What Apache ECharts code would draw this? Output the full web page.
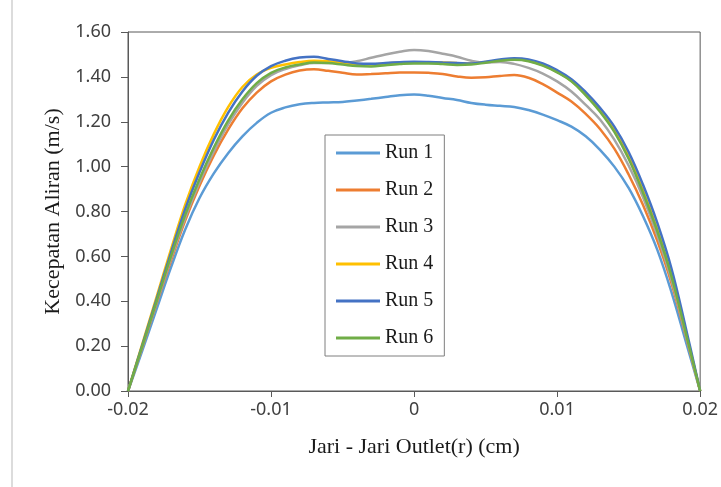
<!DOCTYPE html>
<html>
<head>
<meta charset="utf-8">
<script src="https://cdn.jsdelivr.net/npm/echarts@6/dist/echarts.min.js"></script>
<style>
  html, body { margin: 0; padding: 0; background: #fff; }
  #main { width: 721px; height: 487px; }
</style>
</head>
<body>
<div id="main"></div>
<script>
// jari-jari outlet (r), step 0.001
const radius = [
  -0.020, -0.019, -0.018, -0.017, -0.016, -0.015, -0.014, -0.013, -0.012, -0.011,
  -0.010, -0.009, -0.008, -0.007, -0.006, -0.005, -0.004, -0.003, -0.002, -0.001,
  0,
  0.001, 0.002, 0.003, 0.004, 0.005, 0.006, 0.007, 0.008, 0.009, 0.010,
  0.011, 0.012, 0.013, 0.014, 0.015, 0.016, 0.017, 0.018, 0.019, 0.020
]

const run1 = [0, 0.18, 0.365, 0.55, 0.72, 0.86, 0.97, 1.06, 1.135, 1.195,
  1.24, 1.264, 1.278, 1.284, 1.286, 1.288, 1.295, 1.302, 1.31, 1.318,
  1.321,
  1.316, 1.306, 1.297, 1.284, 1.276, 1.271, 1.266, 1.252, 1.232, 1.207,
  1.178, 1.135, 1.075, 1.0, 0.905, 0.78, 0.63, 0.44, 0.22, 0]

const run2 = [0, 0.195, 0.39, 0.58, 0.76, 0.915, 1.05, 1.165, 1.26, 1.33,
  1.38, 1.41, 1.428, 1.434, 1.427, 1.418, 1.411, 1.413, 1.416, 1.419,
  1.42,
  1.418, 1.413, 1.402, 1.396, 1.398, 1.404, 1.408, 1.396, 1.368, 1.33,
  1.29, 1.235, 1.168, 1.08, 0.965, 0.83, 0.67, 0.48, 0.245, 0]

const run3 = [0, 0.198, 0.395, 0.59, 0.772, 0.93, 1.068, 1.188, 1.285, 1.36,
  1.408, 1.435, 1.452, 1.462, 1.462, 1.462, 1.47, 1.485, 1.5, 1.512,
  1.52,
  1.515, 1.503, 1.49, 1.472, 1.464, 1.466, 1.458, 1.44, 1.415, 1.38,
  1.335, 1.275, 1.21, 1.12, 1.005, 0.865, 0.695, 0.495, 0.25, 0]

const run4 = [0, 0.21, 0.42, 0.63, 0.83, 1.0, 1.145, 1.265, 1.355, 1.41,
  1.44, 1.455, 1.466, 1.472, 1.47, 1.462, 1.455, 1.455, 1.46, 1.463,
  1.465,
  1.465, 1.464, 1.462, 1.46, 1.466, 1.474, 1.478, 1.472, 1.452, 1.422,
  1.382, 1.322, 1.25, 1.162, 1.045, 0.895, 0.72, 0.515, 0.262, 0]

const run5 = [0, 0.205, 0.41, 0.615, 0.81, 0.975, 1.12, 1.24, 1.335, 1.405,
  1.448, 1.472, 1.486, 1.49, 1.48, 1.47, 1.46, 1.458, 1.462, 1.465,
  1.467,
  1.466, 1.464, 1.462, 1.46, 1.468, 1.477, 1.483, 1.478, 1.46, 1.43,
  1.39, 1.332, 1.262, 1.178, 1.065, 0.92, 0.75, 0.545, 0.28, 0]

const run6 = [0, 0.2, 0.4, 0.6, 0.785, 0.945, 1.085, 1.205, 1.3, 1.372,
  1.418, 1.442, 1.455, 1.464, 1.462, 1.455, 1.448, 1.446, 1.452, 1.457,
  1.46,
  1.46, 1.457, 1.453, 1.455, 1.463, 1.472, 1.476, 1.47, 1.45, 1.42,
  1.38, 1.318, 1.245, 1.155, 1.035, 0.885, 0.713, 0.51, 0.258, 0]

const runNames = ["Run 1", "Run 2", "Run 3", "Run 4", "Run 5", "Run 6"]
const runs = [run1, run2, run3, run4, run5, run6]
const colors = ["#5b9bd5", "#ed7d31", "#a5a5a5", "#ffc000", "#4472c4", "#70ad47"]

let myChart = echarts.init(document.getElementById("main"))

let series = runs.map((run, i) => ({
  name: runNames[i],
  type: "line",
  smooth: 0.4,
  showSymbol: false,
  lineStyle: { width: 2.5, color: colors[i] },
  itemStyle: { color: colors[i] },
  data: run.map((v, k) => [radius[k], v])
}))

let option = {
  animation: false,
  backgroundColor: "#fff",
  graphic: [
    {
      type: "line",
      shape: { x1: 12, y1: 0, x2: 12, y2: 487 },
      style: { stroke: "#dcdcdc", lineWidth: 2 }
    }
  ],
  grid: {
    left: 128,
    right: 19,
    top: 32,
    bottom: 96,
    show: true,
    borderColor: "#595959",
    borderWidth: 1
  },
  legend: {
    orient: "vertical",
    left: 325,
    top: 135,
    icon: "rect",
    itemWidth: 44,
    itemHeight: 3,
    itemGap: 17,
    padding: [8, 11, 8, 11],
    borderColor: "#7f7f7f",
    borderWidth: 1,
    textStyle: {
      fontFamily: "Liberation Serif",
      fontSize: 20,
      lineHeight: 20,
      color: "#1a1a1a"
    },
    data: runNames
  },
  xAxis: {
    type: "value",
    min: -0.02,
    max: 0.02,
    interval: 0.01,
    name: "Jari - Jari Outlet(r) (cm)",
    nameLocation: "middle",
    nameGap: 45,
    nameTextStyle: { fontFamily: "Liberation Serif", fontSize: 22, color: "#1a1a1a" },
    splitLine: { show: false },
    axisLine: { onZero: false, lineStyle: { color: "#595959", width: 1 } },
    axisTick: { length: 6, lineStyle: { color: "#595959" } },
    axisLabel: {
      margin: 10,
      fontFamily: "Noto Sans",
      fontSize: 18,
      color: "#404040"
    }
  },
  yAxis: {
    type: "value",
    min: 0,
    max: 1.6,
    interval: 0.2,
    name: "Kecepatan Aliran (m/s)",
    nameLocation: "middle",
    nameGap: 60,
    nameTextStyle: { fontFamily: "Liberation Serif", fontSize: 22, color: "#1a1a1a" },
    splitLine: { show: false },
    axisLine: { show: true, onZero: false, lineStyle: { color: "#595959", width: 1 } },
    axisTick: { show: true, length: 7, lineStyle: { color: "#595959" } },
    axisLabel: {
      margin: 17,
      fontFamily: "Noto Sans",
      fontSize: 18,
      color: "#404040",
      formatter: v => v.toFixed(2)
    }
  },
  series: series
}

option && myChart.setOption(option)
</script>
</body>
</html>
